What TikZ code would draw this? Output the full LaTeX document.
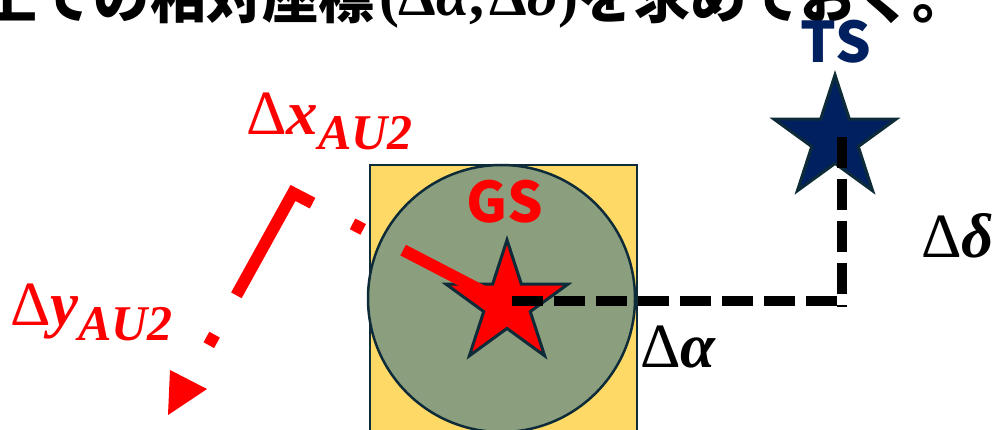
\documentclass[tikz,border=0pt]{standalone}
\usepackage{fontspec}
\newfontfamily\jp{Noto Sans CJK JP}
\newfontfamily\mf{Liberation Serif}
\usetikzlibrary{shapes.geometric}
\definecolor{gold}{HTML}{FFD966}
\definecolor{sage}{HTML}{8B9F7E}
\definecolor{edge}{HTML}{0E2B3A}
\definecolor{navy}{HTML}{002060}
\definecolor{myred}{HTML}{FF0000}
\begin{document}
\begin{tikzpicture}[x=1pt,y=-1pt,
  starshape/.style={star, star points=5, star point ratio=2.618, minimum size=128pt,
    inner sep=0pt, outer sep=0pt, draw=edge, line width=3pt},
  reddash/.style={myred, line width=12pt, dash pattern=on 139pt off 45pt on 12pt off 45pt,
    dash phase=22pt, line join=miter},
  blackdash/.style={black, line width=10pt, dash pattern=on 31pt off 11pt},
  lbl/.style={inner sep=0pt, outer sep=0pt, anchor=base west},
  mlabel/.style={lbl, font=\mf\fontsize{63}{63}\selectfont},
  starlabel/.style={inner sep=0pt, outer sep=0pt, anchor=base, font=\jp\bfseries\fontsize{56}{56}\selectfont},
  title/.style={lbl, font=\jp\bfseries\fontsize{56}{56}\selectfont}
]
\useasboundingbox (0,0) rectangle (998,430);
\clip (0,0) rectangle (998,430);

% title
\node[title] (t1) at (-18,19) {上での相対座標};
\node[lbl, font=\mf\bfseries\fontsize{60}{60}\selectfont] (t2) at (379,16) {(Δ\textit{α},\hspace{5pt}Δ\textit{δ})};
\node[title] (t3) at (578,19) {を求めておく。};

% square and circle
\node[rectangle, draw=edge, fill=gold, line width=2.5pt, minimum width=267pt, minimum height=267pt,
  inner sep=0pt] (sq) at (503.5,298.5) {};
\node[circle, draw=edge, fill=sage, line width=2.5pt, minimum size=267pt, inner sep=0pt] (ci) at (501.5,298.5) {};

% stars
\node[starshape, fill=myred] (gs) at (507,304) {};
\node[starshape, fill=navy] (ts) at (835,139) {};

% red dash-dot axes
\coordinate (rc) at (293,193);
\coordinate (re) at (184,390);
\draw[reddash] (gs.center) -- (rc) -- (re);
\fill[myred] (170,370) -- (168,415) -- (207,389) -- cycle;

% black dashed offsets
\coordinate (ha) at (512,301);
\coordinate (hb) at (842,301);
\coordinate (va) at (842,137);
\coordinate (vb) at (842,307);
\draw[blackdash] (ha) -- (hb);
\draw[blackdash] (va) -- (vb);

% labels
\node[starlabel, text=myred] (gsl) at (505,223) {GS};
\node[starlabel, text=navy] (tsl) at (836,63) {TS};
\node[mlabel, text=myred] (dx) at (246,135) {Δ{\bfseries\itshape x}\raisebox{-15pt}{\fontsize{50}{50}\selectfont\bfseries\itshape AU2}};
\node[mlabel, text=myred] (dy) at (10,325) {Δ{\bfseries\itshape y}\raisebox{-15pt}{\fontsize{50}{50}\selectfont\bfseries\itshape AU2}};
\node[mlabel] (da) at (640,367) {Δ{\bfseries\itshape α}};
\node[mlabel] (dd) at (921,258) {Δ{\bfseries\itshape δ}};
\end{tikzpicture}
\end{document}
